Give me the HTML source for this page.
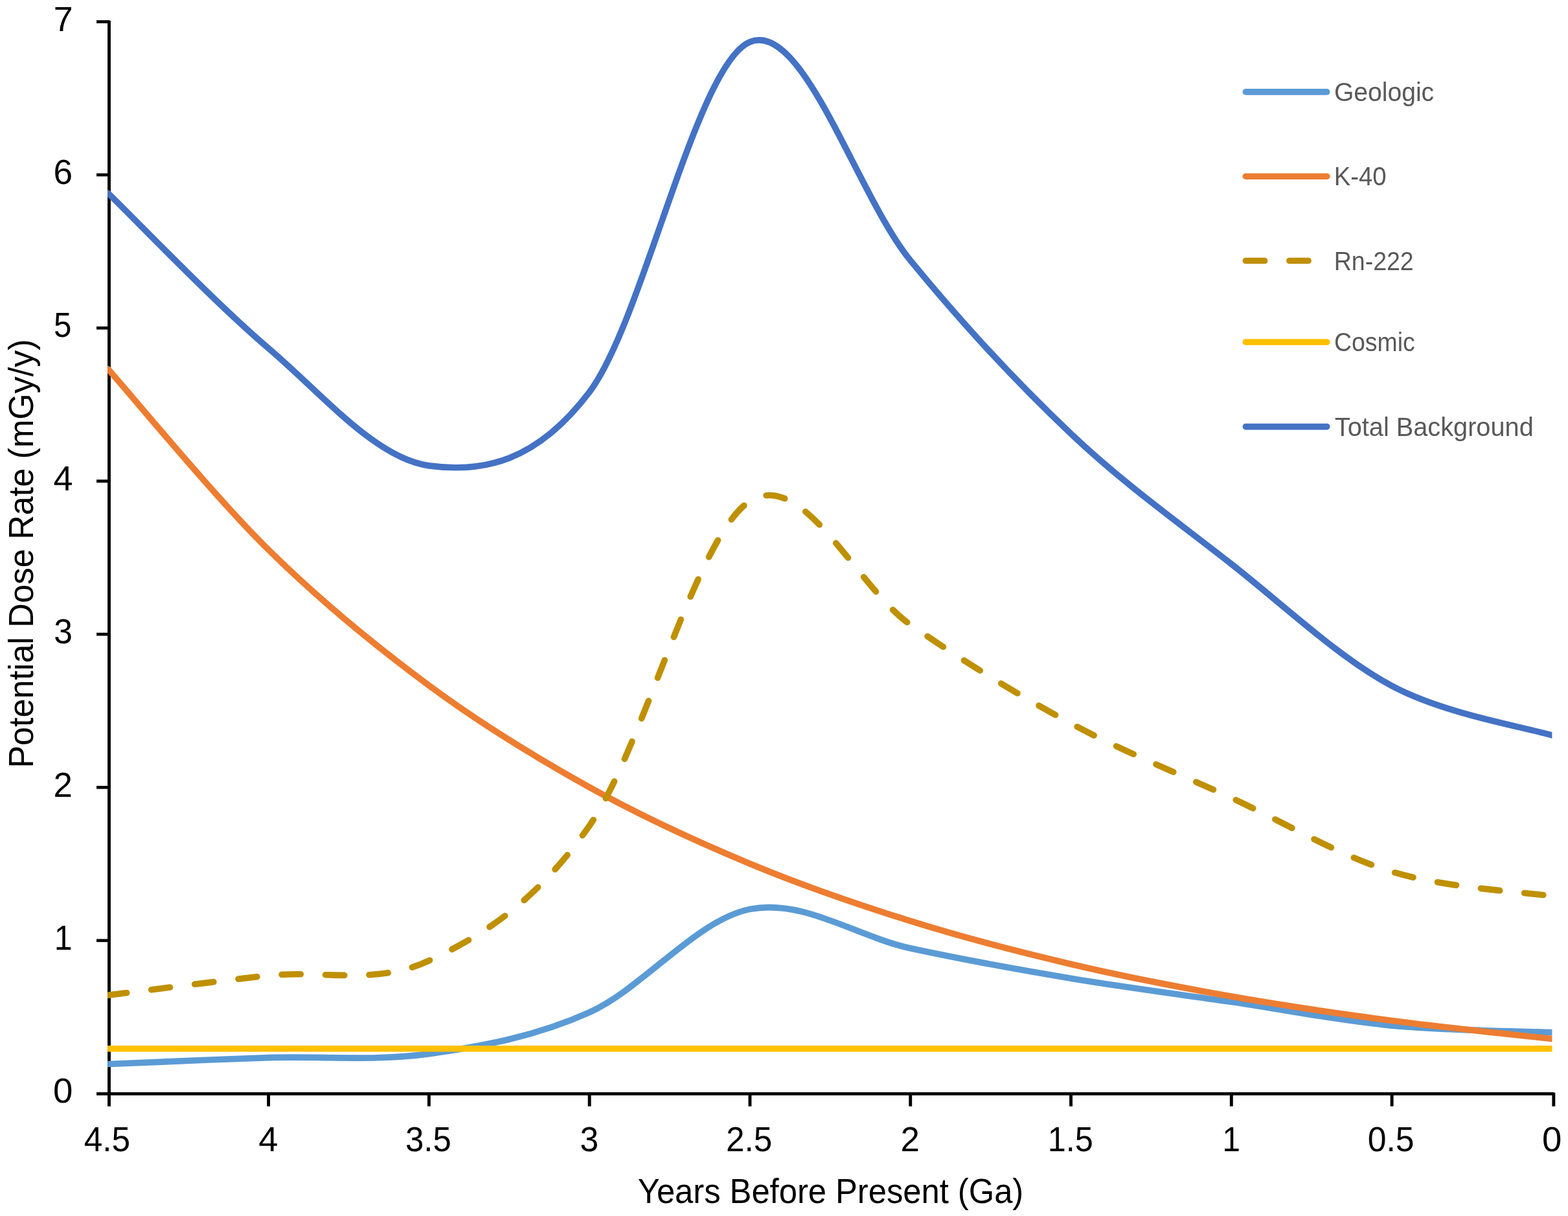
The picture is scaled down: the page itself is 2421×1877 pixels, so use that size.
<!DOCTYPE html>
<html lang="en"><head><meta charset="utf-8">
<title>Potential Dose Rate vs Years Before Present</title>
<style>html,body{margin:0;padding:0;background:#fff;}body{width:2421px;height:1877px;overflow:hidden;}svg{display:block;}text{font-family:"Liberation Sans", Arial, sans-serif;}</style>
</head><body>
<svg xmlns="http://www.w3.org/2000/svg" width="2421" height="1877" viewBox="0 0 2421 1877">
<rect width="2421" height="1877" fill="#ffffff"/>
<defs><clipPath id="plot"><rect x="166.10" y="0" width="2230.30" height="1877"/></clipPath></defs>
<g stroke="#000" fill="none" stroke-linecap="butt">
<g stroke-width="4.90">
<path d="M168.47,32.00 V1707.70"/>
<path d="M414.56,1688.45 V1707.70"/>
<path d="M662.35,1688.45 V1707.70"/>
<path d="M910.14,1688.45 V1707.70"/>
<path d="M1157.93,1688.45 V1707.70"/>
<path d="M1405.72,1688.45 V1707.70"/>
<path d="M1653.51,1688.45 V1707.70"/>
<path d="M1901.30,1688.45 V1707.70"/>
<path d="M2149.09,1688.45 V1707.70"/>
<path d="M2398.85,1686.65 V1707.70"/>
</g>
<g stroke-width="4.70">
<path d="M149.00,1688.45 H2399.20"/>
<path d="M149.00,1451.78 H168.47"/>
<path d="M149.00,1215.41 H168.47"/>
<path d="M149.00,979.04 H168.47"/>
<path d="M149.00,742.67 H168.47"/>
<path d="M149.00,506.30 H168.47"/>
<path d="M149.00,269.93 H168.47"/>
<path d="M149.00,33.56 H169.47"/>
</g>
</g>
<g clip-path="url(#plot)" fill="none" stroke-width="9.65" stroke-linejoin="round" stroke-linecap="round">
<path d="M166.77,1642.49 C208.07,1640.86 331.96,1635.32 414.56,1632.68 C497.16,1630.04 579.75,1638.34 662.35,1626.65 C744.95,1614.97 827.54,1599.78 910.14,1562.57 C992.74,1525.36 1075.33,1419.83 1157.93,1403.36 C1240.53,1386.89 1323.12,1445.95 1405.72,1463.75 C1488.32,1481.55 1570.91,1496.36 1653.51,1510.16 C1736.11,1523.97 1818.70,1534.42 1901.30,1546.58 C1983.90,1558.74 2066.49,1575.28 2149.09,1583.12 C2231.69,1590.95 2355.58,1591.84 2396.88,1593.59" stroke="#5B9BD5"/>
<path d="M166.77,569.70 C208.07,616.20 331.96,767.28 414.56,848.68 C497.16,930.08 579.75,996.98 662.35,1058.07 C744.95,1119.17 827.54,1169.38 910.14,1215.24 C992.74,1261.09 1075.33,1298.78 1157.93,1333.20 C1240.53,1367.61 1323.12,1395.90 1405.72,1421.73 C1488.32,1447.57 1570.91,1468.80 1653.51,1488.19 C1736.11,1507.58 1818.70,1523.51 1901.30,1538.07 C1983.90,1552.62 2066.49,1564.58 2149.09,1575.50 C2231.69,1586.42 2355.58,1598.92 2396.88,1603.60" stroke="#ED7D31"/>
<path d="M166.77,1536.15 C208.07,1531.11 331.96,1514.76 414.56,1505.88 C497.16,1497.00 579.75,1521.43 662.35,1482.88 C744.95,1444.33 827.54,1392.79 910.14,1274.56 C992.74,1156.33 1075.33,825.22 1157.93,773.50 C1240.53,721.78 1323.12,907.03 1405.72,964.22 C1488.32,1021.41 1570.91,1072.06 1653.51,1116.62 C1736.11,1161.18 1818.70,1193.40 1901.30,1231.57 C1983.90,1269.74 2066.49,1320.33 2149.09,1345.62 C2231.69,1370.91 2355.58,1377.04 2396.88,1383.33" stroke="#BF9000" stroke-dasharray="29.25 38.28"/>
<path d="M166.77,1618.70 H2396.88" stroke="#FFC000"/>
<path d="M166.77,298.10 C208.07,338.02 331.96,467.46 414.56,537.59 C497.16,607.72 579.75,707.63 662.35,718.88 C744.95,730.13 827.81,713.75 910.14,605.08 C992.74,496.06 1075.33,98.62 1157.93,64.78 C1240.53,30.94 1323.12,301.27 1405.72,402.04 C1488.32,502.81 1570.91,591.29 1653.51,669.39 C1736.11,747.49 1818.70,805.76 1901.30,870.66 C1983.90,935.56 2066.49,1014.69 2149.09,1058.79 C2231.69,1102.89 2355.58,1122.50 2396.88,1135.24" stroke="#4472C4"/>
</g>
<g fill="none" stroke-width="9.65" stroke-linecap="round">
<path d="M1923.33,141.90 H2048.78" stroke="#5B9BD5"/>
<path d="M1923.33,272.20 H2048.78" stroke="#ED7D31"/>
<path d="M1923.33,402.50 H2048.78" stroke="#BF9000" stroke-dasharray="29.25 38.28"/>
<path d="M1923.33,528.00 H2048.78" stroke="#FFC000"/>
<path d="M1923.33,658.60 H2048.78" stroke="#4472C4"/>
</g>
<text x="82.03" y="1702.25" font-size="53.30" textLength="30.36" lengthAdjust="spacingAndGlyphs" fill="#000">0</text>
<text x="83.83" y="1465.88" font-size="53.30" textLength="27.79" lengthAdjust="spacingAndGlyphs" fill="#000">1</text>
<text x="82.62" y="1229.51" font-size="53.30" textLength="29.34" lengthAdjust="spacingAndGlyphs" fill="#000">2</text>
<text x="83.18" y="993.14" font-size="53.30" textLength="28.69" lengthAdjust="spacingAndGlyphs" fill="#000">3</text>
<text x="82.43" y="756.77" font-size="53.30" textLength="29.99" lengthAdjust="spacingAndGlyphs" fill="#000">4</text>
<text x="83.06" y="520.40" font-size="53.30" textLength="27.39" lengthAdjust="spacingAndGlyphs" fill="#000">5</text>
<text x="82.56" y="284.03" font-size="53.30" textLength="29.55" lengthAdjust="spacingAndGlyphs" fill="#000">6</text>
<text x="82.69" y="47.66" font-size="53.30" textLength="29.91" lengthAdjust="spacingAndGlyphs" fill="#000">7</text>
<text x="129.74" y="1777.30" font-size="53.30" textLength="71.44" lengthAdjust="spacingAndGlyphs" fill="#000">4.5</text>
<text x="399.19" y="1777.30" font-size="53.30" textLength="29.99" lengthAdjust="spacingAndGlyphs" fill="#000">4</text>
<text x="626.04" y="1777.30" font-size="53.30" textLength="70.70" lengthAdjust="spacingAndGlyphs" fill="#000">3.5</text>
<text x="895.52" y="1777.30" font-size="53.30" textLength="28.69" lengthAdjust="spacingAndGlyphs" fill="#000">3</text>
<text x="1121.10" y="1777.30" font-size="53.30" textLength="71.23" lengthAdjust="spacingAndGlyphs" fill="#000">2.5</text>
<text x="1390.53" y="1777.30" font-size="53.30" textLength="29.34" lengthAdjust="spacingAndGlyphs" fill="#000">2</text>
<text x="1617.78" y="1777.30" font-size="53.30" textLength="70.09" lengthAdjust="spacingAndGlyphs" fill="#000">1.5</text>
<text x="1887.33" y="1777.30" font-size="53.30" textLength="27.79" lengthAdjust="spacingAndGlyphs" fill="#000">1</text>
<text x="2111.72" y="1777.30" font-size="53.30" textLength="71.79" lengthAdjust="spacingAndGlyphs" fill="#000">0.5</text>
<text x="2381.11" y="1777.30" font-size="53.30" textLength="30.36" lengthAdjust="spacingAndGlyphs" fill="#000">0</text>
<text x="984.76" y="1857.00" font-size="53.30" textLength="595.50" lengthAdjust="spacingAndGlyphs" fill="#000">Years Before Present (Ga)</text>
<text x="51.40" y="1185.58" font-size="53.30" textLength="662.12" lengthAdjust="spacingAndGlyphs" transform="rotate(-90 51.40 1185.58)" fill="#000">Potential Dose Rate (mGy/y)</text>
<text x="2059.99" y="156.00" font-size="41.00" textLength="154.17" lengthAdjust="spacingAndGlyphs" fill="#595959">Geologic</text>
<text x="2059.65" y="286.30" font-size="41.00" textLength="80.83" lengthAdjust="spacingAndGlyphs" fill="#595959">K-40</text>
<text x="2059.71" y="416.60" font-size="41.00" textLength="123.02" lengthAdjust="spacingAndGlyphs" fill="#595959">Rn-222</text>
<text x="2060.06" y="542.10" font-size="41.00" textLength="124.61" lengthAdjust="spacingAndGlyphs" fill="#595959">Cosmic</text>
<text x="2060.83" y="672.70" font-size="41.00" textLength="306.89" lengthAdjust="spacingAndGlyphs" fill="#595959">Total Background</text>
</svg>
</body></html>
